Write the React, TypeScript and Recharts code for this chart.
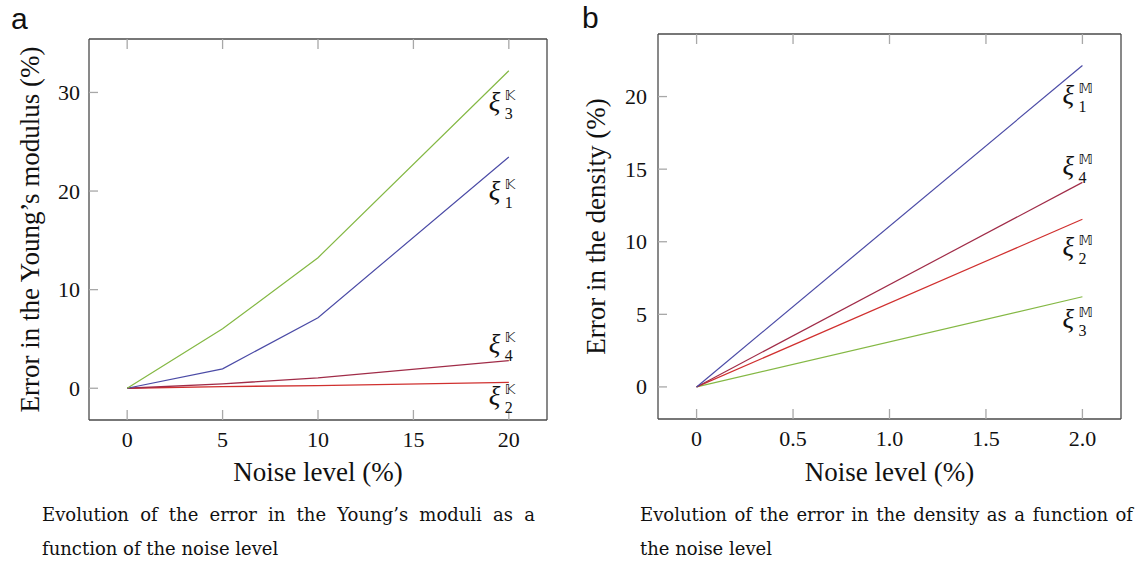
import React from "react";
import { LineChart, Line, XAxis, YAxis, Label } from "recharts";

// ---------- data ----------
const youngNoise = [0, 5, 10, 20];
const xiK1 = [0, 1.97, 7.15, 23.45];
const xiK2 = [0, 0.17, 0.27, 0.6];
const xiK3 = [0, 6.03, 13.24, 32.2];
const xiK4 = [0, 0.45, 1.05, 2.8];
const youngXTicks = [0, 5, 10, 15, 20];
const youngYTicks = [0, 10, 20, 30];

const densityNoise = [0, 2.0];
const xiM1 = [0, 22.14];
const xiM2 = [0, 11.55];
const xiM3 = [0, 6.21];
const xiM4 = [0, 14.09];
const densityXTicks = [0, 0.5, 1.0, 1.5, 2.0];
const densityYTicks = [0, 5, 10, 15, 20];

const youngData = youngNoise.map((n, i) => ({ noise: n, k1: xiK1[i], k2: xiK2[i], k3: xiK3[i], k4: xiK4[i] }));
const densityData = densityNoise.map((n, i) => ({ noise: n, m1: xiM1[i], m2: xiM2[i], m3: xiM3[i], m4: xiM4[i] }));

// ---------- styles ----------
const SERIF = "'Liberation Serif', 'DejaVu Serif', serif";
const CAPTION_FONT = "'DejaVu Serif', serif";
const FRAME = "#4a4a4a";
const TICK = "#a8a8a8";
const BLUE = "#4b4ba6";
const GREEN = "#84b844";
const DARKRED = "#a02c48";
const RED = "#d0302f";

const enlarge = (lo: number, hi: number) => {
  const d = (hi - lo) * 0.1;
  return [lo - d, hi + d];
};

const TickLeft = (props: any) => {
  const { x, y, payload, fmt } = props;
  return (
    <text x={x} y={y + 7.5} textAnchor="end" fontFamily={SERIF} fontSize={22} fill="#111">
      {fmt ? fmt(payload.value) : payload.value}
    </text>
  );
};
const TickBottom = (props: any) => {
  const { x, y, payload, fmt } = props;
  return (
    <text x={x} y={y + 27} textAnchor="middle" fontFamily={SERIF} fontSize={22} fill="#111">
      {fmt ? fmt(payload.value) : payload.value}
    </text>
  );
};
const NoTick = () => <g />;

const makeXiLabel = (sup: string, sub: string, dy: number, lastIndex: number) => (props: any) => {
  const { x, y, index } = props;
  if (index !== lastIndex || x == null || y == null) return null;
  const bx = x - 20;
  const by = y + dy;
  return (
    <text fill="#111">
      <tspan x={bx} y={by} fontFamily={SERIF} fontStyle="italic" fontSize={27}>ξ</tspan>
      <tspan x={bx + 16} y={by - 11} fontFamily="'DejaVu Sans', sans-serif" fontSize={14}>{sup}</tspan>
      <tspan x={bx + 16} y={by + 8} fontFamily={SERIF} fontSize={16}>{sub}</tspan>
    </text>
  );
};

const YTitle = (text: string, cx: number) => (props: any) => {
  const vb = props.viewBox || {};
  const cy = vb.y + vb.height / 2;
  return (
    <text x={cx} y={cy} transform={`rotate(-90 ${cx} ${cy})`} textAnchor="middle" dominantBaseline="central" fontFamily={SERIF} fontSize={27} fill="#111">
      {text}
    </text>
  );
};
const XTitle = (text: string, baseline: number) => (props: any) => {
  const vb = props.viewBox || {};
  const cx = vb.x + vb.width / 2;
  return (
    <text x={cx} y={baseline} textAnchor="middle" fontFamily={SERIF} fontSize={27} fill="#111">
      {text}
    </text>
  );
};

const fmtDensity = (v: number) => (v === 0 ? "0" : v.toFixed(1));

const axisCommon = {
  axisLine: { stroke: FRAME, strokeWidth: 1.3 },
  tickLine: { stroke: TICK, strokeWidth: 1.3 },
  interval: 0 as const,
};

const YoungChart = () => {
  const last = youngData.length - 1;
  const yDom = enlarge(0, 32.2);
  return (
    <LineChart width={560} height={562} data={youngData} margin={{ top: 38, right: 12, left: 0, bottom: 0 }}>
      <XAxis xAxisId="b" dataKey="noise" type="number" domain={[-2, 22]} ticks={youngXTicks} height={142}
        {...axisCommon} tickSize={-10} tickMargin={10} tick={<TickBottom />}>
        <Label content={XTitle("Noise level (%)", 481)} />
      </XAxis>
      <XAxis xAxisId="t" orientation="top" dataKey="noise" type="number" domain={[-2, 22]} ticks={youngXTicks} height={1}
        {...axisCommon} tickSize={-10} tickMargin={0} tick={<NoTick />} />
      <YAxis yAxisId="l" type="number" domain={yDom} ticks={youngYTicks} width={89}
        {...axisCommon} tickSize={-9} tickMargin={18} tick={<TickLeft />}>
        <Label content={YTitle("Error in the Young’s modulus (%)", 30)} />
      </YAxis>
      <YAxis yAxisId="r" orientation="right" type="number" domain={yDom} ticks={youngYTicks} width={1}
        {...axisCommon} tickSize={-9} tickMargin={0} tick={<NoTick />} />
      <Line xAxisId="b" yAxisId="l" dataKey="k2" stroke={RED} strokeWidth={1.3} dot={false} isAnimationActive={false}
        label={makeXiLabel("𝕂", "2", 23, last)} />
      <Line xAxisId="b" yAxisId="l" dataKey="k4" stroke={DARKRED} strokeWidth={1.3} dot={false} isAnimationActive={false}
        label={makeXiLabel("𝕂", "4", -8, last)} />
      <Line xAxisId="b" yAxisId="l" dataKey="k1" stroke={BLUE} strokeWidth={1.2} dot={false} isAnimationActive={false}
        label={makeXiLabel("𝕂", "1", 43, last)} />
      <Line xAxisId="b" yAxisId="l" dataKey="k3" stroke={GREEN} strokeWidth={1.2} dot={false} isAnimationActive={false}
        label={makeXiLabel("𝕂", "3", 40, last)} />
    </LineChart>
  );
};

const DensityChart = () => {
  const last = densityData.length - 1;
  const yDom = enlarge(0, 22.1);
  return (
    <LineChart width={575} height={562} data={densityData} margin={{ top: 33, right: 13, left: 0, bottom: 0 }}>
      <XAxis xAxisId="b" dataKey="noise" type="number" domain={[-0.2, 2.2]} ticks={densityXTicks} height={143}
        {...axisCommon} tickSize={-10} tickMargin={10} tick={<TickBottom fmt={fmtDensity} />}>
        <Label content={XTitle("Noise level (%)", 481)} />
      </XAxis>
      <XAxis xAxisId="t" orientation="top" dataKey="noise" type="number" domain={[-0.2, 2.2]} ticks={densityXTicks} height={1}
        {...axisCommon} tickSize={-10} tickMargin={0} tick={<NoTick />} />
      <YAxis yAxisId="l" type="number" domain={yDom} ticks={densityYTicks} width={98}
        {...axisCommon} tickSize={-9} tickMargin={20} tick={<TickLeft />}>
        <Label content={YTitle("Error in the density (%)", 36)} />
      </YAxis>
      <YAxis yAxisId="r" orientation="right" type="number" domain={yDom} ticks={densityYTicks} width={1}
        {...axisCommon} tickSize={-9} tickMargin={0} tick={<NoTick />} />
      <Line xAxisId="b" yAxisId="l" dataKey="m3" stroke={GREEN} strokeWidth={1.2} dot={false} isAnimationActive={false}
        label={makeXiLabel("𝕄", "3", 31, last)} />
      <Line xAxisId="b" yAxisId="l" dataKey="m2" stroke={RED} strokeWidth={1.2} dot={false} isAnimationActive={false}
        label={makeXiLabel("𝕄", "2", 37, last)} />
      <Line xAxisId="b" yAxisId="l" dataKey="m4" stroke={DARKRED} strokeWidth={1.2} dot={false} isAnimationActive={false}
        label={makeXiLabel("𝕄", "4", -7, last)} />
      <Line xAxisId="b" yAxisId="l" dataKey="m1" stroke={BLUE} strokeWidth={1.2} dot={false} isAnimationActive={false}
        label={makeXiLabel("𝕄", "1", 38, last)} />
    </LineChart>
  );
};

// justify a caption line to a target width by widening the word spaces
const CAP_SIZE = 18;
const measure = (text: string, size: number) => {
  if (typeof document === "undefined") return 0;
  const c = document.createElement("canvas").getContext("2d");
  if (!c) return 0;
  c.font = `${size}px 'DejaVu Serif', serif`;
  return c.measureText(text).width;
};
const Justified = ({ x, y, width, text }: { x: number; y: number; width: number; text: string }) => {
  const spaces = (text.match(/ /g) || []).length;
  const natural = measure(text, CAP_SIZE);
  const ws = natural > 0 && spaces > 0 ? Math.max(0, (width - natural) / spaces) : 0;
  return (
    <text x={x} y={y} fontFamily={CAPTION_FONT} fontSize={CAP_SIZE} fill="#111" style={{ wordSpacing: `${ws}px` }}>
      {text}
    </text>
  );
};

export default function App() {
  return (
    <div style={{ position: "absolute", left: 0, top: 0, width: 1135, height: 562, background: "#fff", overflow: "hidden" }}>
      <div style={{ position: "absolute", left: 0, top: 0 }}>
        <YoungChart />
      </div>
      <div style={{ position: "absolute", left: 560, top: 0 }}>
        <DensityChart />
      </div>
      <svg width={1135} height={562} style={{ position: "absolute", left: 0, top: 0, pointerEvents: "none" }}>
        <text x={11} y={29} fontFamily="'Liberation Sans', Arial, sans-serif" fontSize={30} fill="#111">a</text>
        <text x={582} y={28} fontFamily="'Liberation Sans', Arial, sans-serif" fontSize={30} fill="#111">b</text>
        <Justified x={42} y={521} width={493} text="Evolution of the error in the Young’s moduli as a" />
        <text x={42} y={555} fontFamily={CAPTION_FONT} fontSize={CAP_SIZE} fill="#111">function of the noise level</text>
        <Justified x={640} y={521} width={493} text="Evolution of the error in the density as a function of" />
        <text x={640} y={555} fontFamily={CAPTION_FONT} fontSize={CAP_SIZE} fill="#111">the noise level</text>
      </svg>
    </div>
  );
}
